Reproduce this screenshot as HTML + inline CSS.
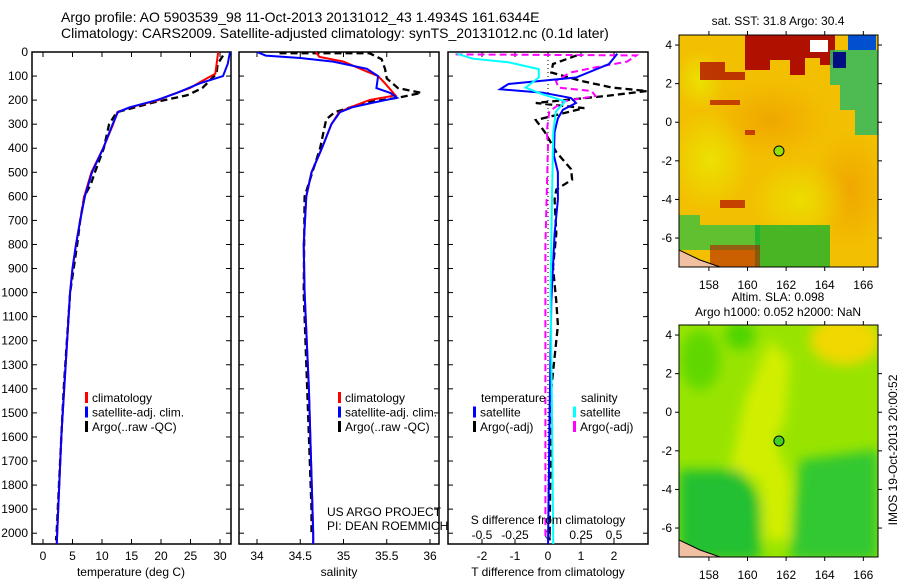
<!DOCTYPE html>
<html><head><meta charset="utf-8"><style>
body{margin:0;background:#fff;}
svg{display:block;font-family:"Liberation Sans",sans-serif;}
</style></head><body>
<svg id="fig" width="900" height="580" viewBox="0 0 900 580">
<defs>
<clipPath id="c1"><rect x="32" y="52" width="199" height="492"/></clipPath>
<clipPath id="c2"><rect x="239" y="52" width="200" height="492"/></clipPath>
<clipPath id="c3"><rect x="448" y="52" width="200" height="492"/></clipPath>
<clipPath id="cm1"><rect x="679" y="35" width="199" height="232"/></clipPath>
<clipPath id="cm2"><rect x="679" y="325" width="199" height="232"/></clipPath>
<radialGradient id="g1" cx="0.5" cy="0.5" r="0.5"><stop offset="0" stop-color="#f0a000" stop-opacity="0.8"/><stop offset="1" stop-color="#f0a000" stop-opacity="0"/></radialGradient>
<radialGradient id="gy" cx="0.5" cy="0.5" r="0.5"><stop offset="0" stop-color="#e8f000"/><stop offset="1" stop-color="#e8f000" stop-opacity="0"/></radialGradient>
<radialGradient id="gg" cx="0.5" cy="0.5" r="0.5"><stop offset="0" stop-color="#10c030"/><stop offset="1" stop-color="#10c030" stop-opacity="0"/></radialGradient>
<radialGradient id="gl" cx="0.5" cy="0.5" r="0.5"><stop offset="0" stop-color="#60e000"/><stop offset="1" stop-color="#60e000" stop-opacity="0"/></radialGradient>
<radialGradient id="go" cx="0.5" cy="0.5" r="0.5"><stop offset="0" stop-color="#f0c800"/><stop offset="1" stop-color="#f0c800" stop-opacity="0"/></radialGradient>
<filter id="blur4"><feGaussianBlur stdDeviation="6"/></filter>
</defs>
<text x="61" y="22" font-size="14">Argo profile: AO 5903539_98 11-Oct-2013 20131012_43 1.4934S 161.6344E</text>
<text x="61" y="38" font-size="14">Climatology: CARS2009. Satellite-adjusted climatology: synTS_20131012.nc (0.1d later)</text>
<g id="axes"></g>
<g id="maps"></g>
</svg>
<script>
// ---- data ----
const depthTs = [0,50,100,130,170,200,230,250,300,400,500,600,700,800,900,1000,1400,1600,2000,2060];
const tempSat = [31.7,31.3,30.5,26.6,22.7,19.3,14.7,12.7,11.8,10.2,8.3,7.1,6.3,5.6,5.0,4.6,3.6,3.1,2.4,2.3];
const depthTc = [0,90,120,150,180,200,230,250,300,400,500,600,700,800,900,1000,1400,1600,2000,2060];
const tempClim = [29.7,29.2,27.0,24.9,21.5,19.6,14.8,12.6,11.9,10.2,8.2,7.0,6.3,5.6,5.0,4.6,3.6,3.1,2.4,2.3];
const depthTa = [15,50,90,150,180,210,250,300,400,500,550,600,700,800,1000,1400,1600,2000,2030];
const tempArgo = [30.5,29.6,29.4,27.0,24.4,18.7,12.5,11.2,10.3,8.8,8.1,7.0,6.3,5.8,4.6,3.5,3.1,2.3,2.2];
const depthSs = [0,15,25,40,70,100,150,170,190,210,230,250,300,400,500,600,800,1000,1400,2000,2060];
const salSat = [34.0,34.1,34.5,34.88,35.27,35.4,35.38,35.54,35.62,35.35,35.1,34.96,34.86,34.75,34.63,34.57,34.54,34.55,34.6,34.65,34.65];
const depthSc = [0,20,40,80,100,130,180,200,230,250,300,400,500,600,800,1000,1400,2000,2060];
const salClim = [34.68,34.72,35.0,35.26,35.4,35.48,35.6,35.3,35.08,34.95,34.86,34.75,34.63,34.57,34.54,34.55,34.6,34.65,34.65];
const depthSa = [5,5,30,70,110,150,170,190,210,250,280,400,600,1000,1400,1900,2010];
const salArgo = [34.26,35.3,35.44,35.48,35.5,35.63,35.9,35.63,35.26,34.9,34.8,34.73,34.55,34.54,34.58,34.63,34.63];
const depthDs = [7,50,106,133,155,169,191,212,240,276,332,430,500,613,754,1037,1500,2060];
const tDiffSat = [2.1,1.85,0.85,-1.2,-1.45,-0.15,0.7,0.85,0.45,0.3,0.2,0.18,0.3,0.3,0.2,0.1,0.05,0.0];
const depthDsc = [7,28,43,71,106,148,176,205,247,332,600,1000,1500,2060];
const sDiffSat = [-0.69,-0.57,-0.3,-0.07,-0.07,-0.17,-0.04,0.13,0.06,0.04,0.03,0.02,0.03,0.04];
const depthDa = [14,50,85,120,148,162,183,212,233,283,332,416,487,530,572,613,754,895,1037,1136,1400,2030];
const tDiffArgo = [0.87,0.15,0.1,1.0,1.95,3.0,1.75,-0.37,1.1,-0.37,-0.1,0.25,0.7,0.73,0.25,0.2,0.25,0.15,0.25,0.3,0.1,0.05];
const depthDm = [10,14,40,64,85,120,148,162,183,205,247,332,389,800,2030];
const sDiffArgo = [-0.7,0.67,0.6,0.36,0.17,0.06,0.08,0.33,0.36,0.12,0.01,-0.01,0.0,-0.02,-0.02];
const depthTicks = [0,100,200,300,400,500,600,700,800,900,1000,1100,1200,1300,1400,1500,1600,1700,1800,1900,2000];
const tTicks = [0,5,10,15,20,25,30];
const sTicks = [34,34.5,35,35.5,36];
const tdTicks = [-2,-1,0,1,2];
const sdTicks = [-0.5,-0.25,0,0.25,0.5];
const sdTickLabels = ['-0.5','-0.25','0','0.25','0.5'];

// ---- scales ----
const yD = d => 52 + d*0.2406;
const xT = t => 43 + t*5.9;
const xS = s => 257 + (s-34)*86.5;
const xTd = t => 548 + t*33;
const xSd = s => 548 + s*132;

const NS='http://www.w3.org/2000/svg';
const axes=document.getElementById('axes');
function el(tag,attrs,parent,text){const e=document.createElementNS(NS,tag);for(const k in attrs)e.setAttribute(k,attrs[k]);if(text!==undefined)e.textContent=text;(parent||axes).appendChild(e);return e;}

const boxes=[[32,231,'temperature-panel'],[239,439,'salinity-panel'],[448,648,'difference-panel']];
boxes.forEach(b=>{
  const r=el('rect',{x:b[0],y:52,width:b[1]-b[0],height:492,fill:'none',stroke:'#000','stroke-width':1.5});
  
  
  depthTicks.forEach(d=>{
    el('line',{x1:b[0],x2:b[0]+5,y1:yD(d),y2:yD(d),stroke:'#000'});
    el('line',{x1:b[1]-5,x2:b[1],y1:yD(d),y2:yD(d),stroke:'#000'});
  });
});
depthTicks.forEach(d=>{
  const t=el('text',{x:28,y:yD(d)+4,'font-size':12,'text-anchor':'end'},axes,String(d));
  
  
});
function xAxis(ticks,fx,labels,ly,name){
  ticks.forEach((v,i)=>{
    const x=fx(v);
    el('line',{x1:x,x2:x,y1:539,y2:544,stroke:'#000'});
    el('line',{x1:x,x2:x,y1:52,y2:57,stroke:'#000'});
    const t=el('text',{x:x,y:ly,'font-size':12,'text-anchor':'middle'},axes,labels?labels[i]:String(v));
    
    
  });
}
xAxis(tTicks,xT,null,560,'temperature-tick-label');
xAxis(sTicks,xS,null,560,'salinity-tick-label');
xAxis(tdTicks,xTd,null,560,'t-diff-tick-label');
sdTicks.forEach((v,i)=>{
  const t=el('text',{x:xSd(v),y:539,'font-size':12,'text-anchor':'middle'},axes,sdTickLabels[i]);
  
  
});
el('line',{x1:548,x2:548,y1:52,y2:544,stroke:'#000','stroke-dasharray':'1,3'});

function series(ds,vs,fx,color,dash,clip,name,w){
  const pts=ds.map((d,i)=>fx(vs[i]).toFixed(1)+','+yD(d).toFixed(1)).join(' ');
  const p=el('polyline',{points:pts,fill:'none',stroke:color,'stroke-width':w||2,'stroke-dasharray':dash||'none','clip-path':'url(#'+clip+')'});
  
  
}
series(depthTa,tempArgo,xT,'#000','7,4','c1','temp-argo-line',2.3);
series(depthTc,tempClim,xT,'#f00',null,'c1','temp-climatology-line');
series(depthTs,tempSat,xT,'#00f',null,'c1','temp-satellite-line');
series(depthSa,salArgo,xS,'#000','7,4','c2','sal-argo-line',2.3);
series(depthSc,salClim,xS,'#f00',null,'c2','sal-climatology-line');
series(depthSs,salSat,xS,'#00f',null,'c2','sal-satellite-line');
series(depthDa,tDiffArgo,xTd,'#000','7,4','c3','tdiff-argo-line',2.3);
series(depthDm,sDiffArgo,xSd,'#f0f','7,4','c3','sdiff-argo-line');
series(depthDs,tDiffSat,xTd,'#00f',null,'c3','tdiff-satellite-line');
series(depthDsc,sDiffSat,xSd,'#0ff',null,'c3','sdiff-satellite-line');

[[131,'temperature (deg C)','temperature-axis-title'],[339,'salinity','salinity-axis-title'],[548,'T difference from climatology','t-diff-axis-title']].forEach(a=>{
  const t=el('text',{x:a[0],y:576,'font-size':12,'text-anchor':'middle'},axes,a[1]);
  
  
});
const sdt=el('text',{x:548,y:524,'font-size':12,'text-anchor':'middle'},axes,'S difference from climatology');



function legend(x,y,color,label){
  el('rect',{x:x,y:y-10,width:3,height:11,fill:color});
  const t=el('text',{x:x+7,y:y,'font-size':12},axes,label);
  
  
}
[[85,'#f00','climatology'],[85,'#00f','satellite-adj. clim.'],[85,'#000','Argo(..raw -QC)']].forEach((l,i)=>legend(l[0],402+i*14.5,l[1],l[2]));
[[338,'#f00','climatology'],[338,'#00f','satellite-adj. clim.'],[338,'#000','Argo(..raw -QC)']].forEach((l,i)=>legend(l[0],402+i*14.5,l[1],l[2]));
el('text',{x:481,y:402,'font-size':12},axes,'temperature');
el('text',{x:581,y:402,'font-size':12},axes,'salinity');
legend(473,416.5,'#00f','satellite');legend(473,431,'#000','Argo(-adj)');
legend(573,416.5,'#0ff','satellite');legend(573,431,'#f0f','Argo(-adj)');
el('text',{x:327,y:516,'font-size':12},axes,'US ARGO PROJECT');
el('text',{x:327,y:530,'font-size':12},axes,'PI: DEAN ROEMMICH');

// ---- maps ----
const maps=document.getElementById('maps');
const lonX = lo => 679 + (lo-156.45)*19.3;
const latY1 = la => 35 + (4.52-la)*19.3;
const latY2 = la => 325 + (4.52-la)*19.3;
const lonTicks=[158,160,162,164,166];
const latTicks=[4,2,0,-2,-4,-6];
function mapBox(y0,latY,name){
  const r=el('rect',{x:679,y:y0,width:199,height:232,fill:'none',stroke:'#000','stroke-width':1},maps);
  
  
  lonTicks.forEach(l=>{const x=lonX(l);el('line',{x1:x,x2:x,y1:y0,y2:y0-4,stroke:'#000'},maps);el('line',{x1:x,x2:x,y1:y0+232,y2:y0+236,stroke:'#000'},maps);
    el('text',{x:x,y:y0+254,'font-size':12,'text-anchor':'middle'},maps,String(l));});
  latTicks.forEach(l=>{const y=latY(l);el('line',{x1:675,x2:679,y1:y,y2:y,stroke:'#000'},maps);el('line',{x1:878,x2:882,y1:y,y2:y,stroke:'#000'},maps);
    el('text',{x:672,y:y+4,'font-size':12,'text-anchor':'end'},maps,String(l));});
}
// SST map
const g1=el('g',{'clip-path':'url(#cm1)'},maps);


el('rect',{x:679,y:35,width:199,height:232,fill:'#f2c000'},g1);
el('ellipse',{cx:770,cy:120,rx:60,ry:40,fill:'url(#g1)'},g1);
el('ellipse',{cx:850,cy:190,rx:40,ry:60,fill:'url(#g1)'},g1);
el('ellipse',{cx:710,cy:160,rx:40,ry:50,fill:'url(#gy)',opacity:0.7},g1);
el('ellipse',{cx:800,cy:200,rx:50,ry:40,fill:'url(#gy)',opacity:0.6},g1);
el('ellipse',{cx:700,cy:80,rx:25,ry:30,fill:'url(#gy)',opacity:0.7},g1);
el('path',{d:'M745,35 H835 V65 H820 V58 H805 V75 H790 V60 H770 V70 H745 Z',fill:'#b01000'},g1);
el('path',{d:'M700,62 H725 V72 H745 V80 H700 Z',fill:'#b01000',opacity:0.8},g1);
el('path',{d:'M710,100 H740 V105 H710 Z M745,130 H755 V135 H745 Z M720,200 H745 V208 H720 Z',fill:'#b82000',opacity:0.8},g1);
el('path',{d:'M830,50 H878 V135 H855 V110 H840 V85 H830 Z',fill:'#30b860',opacity:0.85},g1);
el('rect',{x:848,y:35,width:28,height:15,fill:'#0050d0'},g1);
el('rect',{x:833,y:52,width:13,height:16,fill:'#001080'},g1);
el('rect',{x:810,y:40,width:18,height:12,fill:'#fff'},g1);
el('path',{d:'M679,215 H700 V225 H760 V250 H679 Z',fill:'#30c040',opacity:0.75},g1);
el('path',{d:'M755,225 H830 V267 H755 Z',fill:'#10b030',opacity:0.75},g1);
el('path',{d:'M710,245 H760 V267 H710 Z',fill:'#b02000',opacity:0.6},g1);
el('path',{d:'M679,250 L700,260 L720,267 L679,267 Z',fill:'#f0c0a0',stroke:'#000'},g1);
el('circle',{cx:lonX(161.63),cy:latY1(-1.49),r:5,fill:'#90e000',stroke:'#000'},maps);
mapBox(35,latY1,'sst-map-frame');
// SLA map
const g2=el('g',{'clip-path':'url(#cm2)'},maps);


el('rect',{x:679,y:325,width:199,height:232,fill:'#98e400'},g2);
const g2b=el('g',{filter:'url(#blur4)'},g2);
el('path',{d:'M730,470 L745,400 L770,340 L790,360 L785,420 L775,440 L790,480 L790,540 L765,540 L760,480 Z',fill:'#d8f000',opacity:0.9},g2b);
el('ellipse',{cx:845,cy:340,rx:35,ry:25,fill:'#f0d800'},g2b);
el('path',{d:'M679,470 L740,470 L760,500 L760,560 L679,560 Z',fill:'#20c030'},g2b);
el('path',{d:'M800,460 L878,450 L878,560 L790,560 Z',fill:'#30c830'},g2b);
el('ellipse',{cx:700,cy:360,rx:20,ry:30,fill:'#60d800'},g2b);
el('ellipse',{cx:740,cy:335,rx:15,ry:15,fill:'#50d400'},g2b);
el('path',{d:'M679,540 L700,550 L720,557 L679,557 Z',fill:'#f0c0a0',stroke:'#000'},g2);
el('circle',{cx:lonX(161.63),cy:latY2(-1.49),r:5,fill:'#40d020',stroke:'#000'},maps);
mapBox(325,latY2,'sla-map-frame');
el('text',{x:778,y:25,'font-size':12,'text-anchor':'middle'},maps,'sat. SST: 31.8 Argo: 30.4');
el('text',{x:778,y:301,'font-size':12,'text-anchor':'middle'},maps,'Altim. SLA: 0.098');
el('text',{x:778,y:316,'font-size':12,'text-anchor':'middle'},maps,'Argo h1000: 0.052 h2000: NaN');
el('text',{x:0,y:0,'font-size':12,'text-anchor':'middle',transform:'translate(897,450) rotate(-90)'},maps,'IMOS 19-Oct-2013 20:00:52');
</script>
</body></html>
